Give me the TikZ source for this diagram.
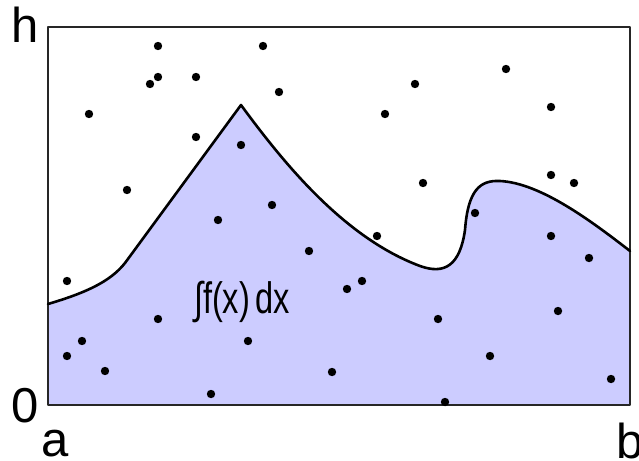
\documentclass[tikz,border=0pt]{standalone}
\usepackage{fontspec}
\setmainfont{Liberation Sans}

\begin{document}
\begin{tikzpicture}[x=1pt,y=-1pt,line join=round,line cap=round,
    axislabel/.style={inner sep=0pt,anchor=base,font=\fontsize{49}{49}\selectfont},
    sample/.style={fill=black}]

  \useasboundingbox (0,0) rectangle (639,460);

  % ---- area under the curve ---------------------------------------------
  \fill[blue!20]
        (48,304) .. controls (85,293) and (110,282) .. (125,263)
        -- (241,105)
        .. controls (285,165) and (345,238) .. (420,266)
        .. controls (445,275) and (460,265) .. (465,230)
        .. controls (468,190) and (480,180) .. (500,181)
        .. controls (540,183) and (590,220) .. (630,251)
        -- (630,405) -- (48,405) -- cycle;

  % ---- frame --------------------------------------------------------------
  \draw[black!85,line width=1.2pt] (48,27) rectangle (630,405);

  % ---- f(x), with its cusp at the peak -------------------------------------
  \draw[black,line width=2.6pt]
        (48,304) .. controls (85,293) and (110,282) .. (125,263)
        -- (241,105)
        .. controls (285,165) and (345,238) .. (420,266)
        .. controls (445,275) and (460,265) .. (465,230)
        .. controls (468,190) and (480,180) .. (500,181)
        .. controls (540,183) and (590,220) .. (630,251);

  % ---- random samples -------------------------------------------------------
  \foreach \px/\py in {158/46,263/46,158/77,150/84,196/77,279/92,89/114,
                       196/137,241/145,127/190,272/205,218/220,
                       506/69,415/84,385/114,551/107,423/183,551/175,
                       574/183,475/213,309/251,67/281,158/319,82/341,
                       67/356,105/371,248/341,211/394,377/236,551/236,
                       589/258,362/281,347/289,438/319,558/311,490/356,
                       332/372,611/379,445/402}{
     \fill[sample] (\px,\py) circle[radius=4.2];
  }

  % ---- labels ----------------------------------------------------------------
  \node[axislabel] (h) at (25,43) {h};
  \node[axislabel] (zero) at (25,422) {0};
  \node[axislabel] (a) at (55,456) {a};
  \node[axislabel] (b) at (630,458) {b};
  \node[inner sep=0pt,anchor=base,font=\fontsize{44}{44}\selectfont,xscale=0.74]
        (integral) at (242,313) {∫f(x)\,dx};

\end{tikzpicture}
\end{document}
